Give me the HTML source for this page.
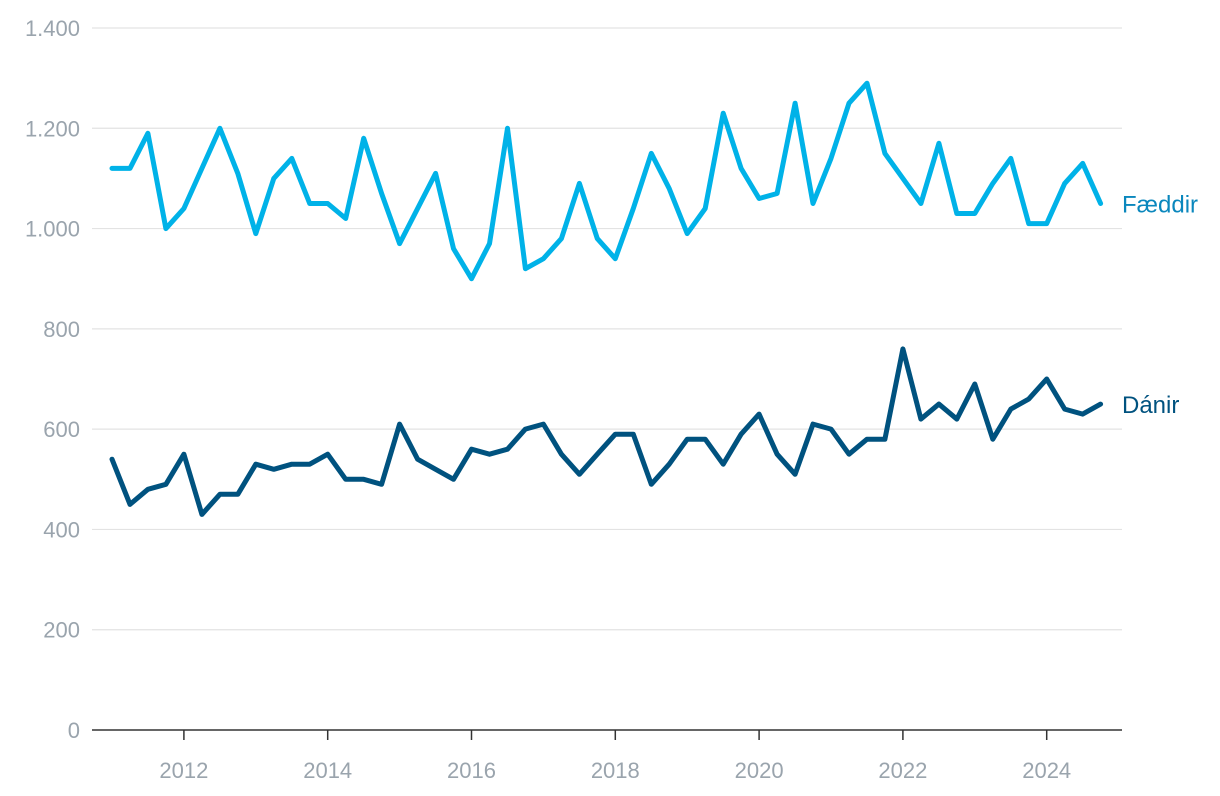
<!DOCTYPE html>
<html><head><meta charset="utf-8"><style>
html,body{margin:0;padding:0;background:#fff;}
svg{display:block;font-family:"Liberation Sans",sans-serif;}
</style></head><body>
<svg id="chart" width="1220" height="796" viewBox="0 0 1220 796" xmlns="http://www.w3.org/2000/svg"></svg>
<script>
const yTicks = [0,200,400,600,800,1000,1200,1400];
const yTickLabels = ["0","200","400","600","800","1.000","1.200","1.400"];
const xTickYears = [2012,2014,2016,2018,2020,2022,2024];
const startYear = 2011;
const births = [1120,1120,1190,1000,1040,1120,1200,1110,990,1100,1140,1050,1050,1020,1180,1070,970,1040,1110,960,900,970,1200,920,940,980,1090,980,940,1040,1150,1080,990,1040,1230,1120,1060,1070,1250,1050,1140,1250,1290,1150,1100,1050,1170,1030,1030,1090,1140,1010,1010,1090,1130,1050];
const deaths = [540,450,480,490,550,430,470,470,530,520,530,530,550,500,500,490,610,540,520,500,560,550,560,600,610,550,510,550,590,590,490,530,580,580,530,590,630,550,510,610,600,550,580,580,760,620,650,620,690,580,640,660,700,640,630,650];
const seriesNames = ["Fæddir","Dánir"];

const NS="http://www.w3.org/2000/svg";
const svg=document.getElementById('chart');
const x0=92,x1=1122;
const yS=v=>730-(v/1400)*702;
const xS=t=>112+(t-startYear)*71.9; // t in fractional years
function mk(tag,attrs){const e=document.createElementNS(NS,tag);for(const k in attrs)e.setAttribute(k,attrs[k]);svg.appendChild(e);return e;}

yTicks.forEach((v,i)=>{
  if(v>0){const g=mk('line',{x1:x0,x2:x1,y1:yS(v),y2:yS(v),stroke:'#e3e3e3','stroke-width':1.2});
  
  }
  const t=mk('text',{x:80,y:yS(v)+8,'text-anchor':'end','font-size':22,fill:'#9aa4ad'});
  t.textContent=yTickLabels[i];
  
  
});
const ax=mk('line',{x1:x0,x2:x1,y1:730,y2:730,stroke:'#333','stroke-width':1.5});


xTickYears.forEach(yr=>{
  const x=xS(yr);
  const tk=mk('line',{x1:x,x2:x,y1:730,y2:740,stroke:'#333','stroke-width':1.5});
  
  
  const t=mk('text',{x:x,y:778,'text-anchor':'middle','font-size':22,fill:'#9aa4ad'});
  t.textContent=yr;
  
  
});
function series(data,color,name,labelColor,label){
  const pts=data.map((v,i)=>xS(startYear+i*0.25).toFixed(1)+','+yS(v).toFixed(1)).join(' ');
  const p=mk('polyline',{points:pts,fill:'none',stroke:color,'stroke-width':5,'stroke-linejoin':'round','stroke-linecap':'round'});
  
  
  const last=data[data.length-1];
  const t=mk('text',{x:1122,y:yS(last)+9,'font-size':24,fill:labelColor});
  t.textContent=label;
  
  
}
series(births,'#00b2e8','births-line','#0a87bd',seriesNames[0]);
series(deaths,'#00527f','deaths-line','#00527f',seriesNames[1]);
</script>
</body></html>
